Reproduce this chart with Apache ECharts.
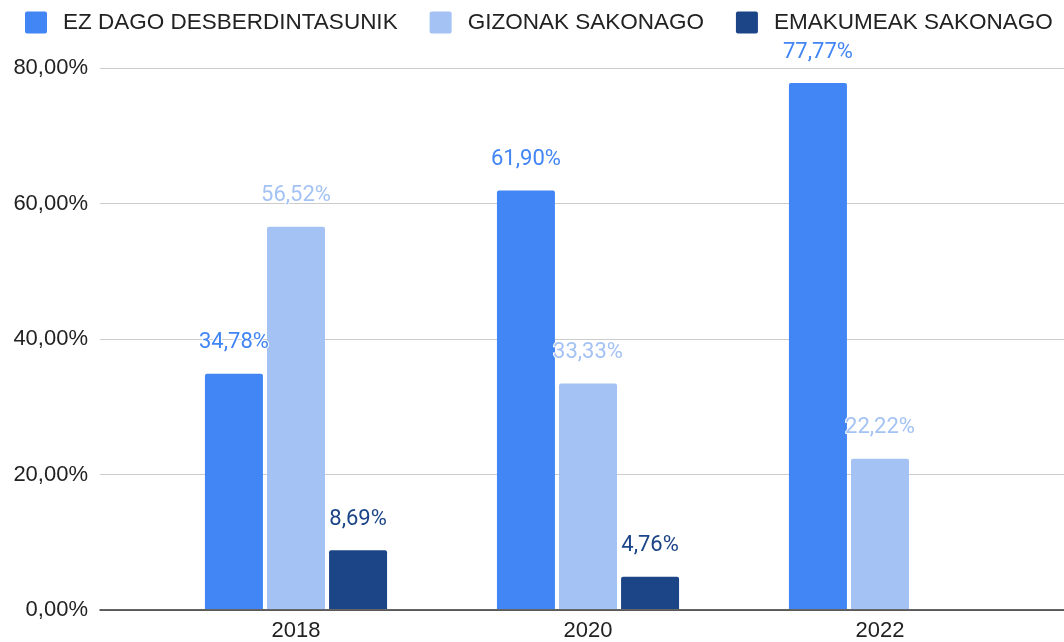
<!DOCTYPE html>
<html>
<head>
<meta charset="utf-8">
<script src="https://cdn.jsdelivr.net/npm/echarts@6/dist/echarts.min.js"></script>
<style>
  html, body { margin: 0; padding: 0; background: #fff; }
  #chart { width: 1064px; height: 642px; }
</style>
</head>
<body>
<div id="chart"></div>
<script>
const years = ['2018', '2020', '2022'];
const seriesNames = ['EZ DAGO DESBERDINTASUNIK', 'GIZONAK SAKONAGO', 'EMAKUMEAK SAKONAGO'];
const ezDago = [34.78, 61.90, 77.77];
const gizonak = [56.52, 33.33, 22.22];
const emakumeak = [8.69, 4.76, null];
const colors = ['#4285F4', '#A4C2F4', '#1C4587'];

const fmt = (v) => v.toFixed(2).replace('.', ',') + '%';

const chart = echarts.init(document.getElementById('chart'));

function barSeries(name, data, color) {
  return {
    name: name,
    type: 'bar',
    xAxisIndex: 1,
    yAxisIndex: 1,
    data: data,
    barWidth: 58,
    barGap: '7%',
    itemStyle: { color: color, borderRadius: [2, 2, 0, 0] },
    label: {
      show: true,
      position: 'top',
      distance: 20,
      color: color,
      fontFamily: 'Roboto',
      fontSize: 22,
      textBorderColor: '#fff',
      textBorderWidth: 2,
      formatter: (p) => fmt(p.value)
    }
  };
}

chart.setOption({
  animation: false,
  color: colors,
  legend: {
    left: 25,
    top: 11,
    width: 1100,
    padding: 0,
    icon: 'path://M2,0H20Q22,0 22,2V20Q22,22 20,22H2Q0,22 0,20V2Q0,0 2,0Z',
    itemWidth: 22,
    itemHeight: 22,
    itemGap: 32,
    textStyle: {
      fontFamily: 'Liberation Sans, Arial',
      fontSize: 22.5,
      color: '#222',
      padding: [0, 0, 0, 11]
    },
    data: seriesNames
  },
  grid: [
    { left: 100, right: 0, top: 68, bottom: 32 },
    { left: 150, right: 38, top: 68, bottom: 32 }
  ],
  xAxis: [
    {
      gridIndex: 0, type: 'value', min: 0, max: 1,
      axisLine: { show: true, onZero: false, lineStyle: { color: '#333', width: 1.5 } },
      axisTick: { show: false }, axisLabel: { show: false }, splitLine: { show: false }
    },
    {
      gridIndex: 1, type: 'category', data: years,
      axisLine: { show: false }, axisTick: { show: false },
      axisLabel: {
        fontFamily: 'Liberation Sans, Arial', fontSize: 22, color: '#222', margin: 11
      }
    }
  ],
  yAxis: [
    {
      gridIndex: 0, type: 'value', min: 0, max: 80, interval: 20,
      axisLine: { show: false }, axisTick: { show: false },
      axisLabel: {
        formatter: (v) => fmt(v), fontFamily: 'Liberation Sans, Arial',
        fontSize: 22, color: '#222', margin: 12
      },
      splitLine: { lineStyle: { color: '#cccccc', width: 1 } }
    },
    {
      gridIndex: 1, type: 'value', min: 0, max: 80, interval: 20,
      axisLine: { show: false }, axisTick: { show: false },
      axisLabel: { show: false }, splitLine: { show: false }
    }
  ],
  series: [
    barSeries(seriesNames[0], ezDago, colors[0]),
    barSeries(seriesNames[1], gizonak, colors[1]),
    barSeries(seriesNames[2], emakumeak, colors[2])
  ]
});
</script>
</body>
</html>
